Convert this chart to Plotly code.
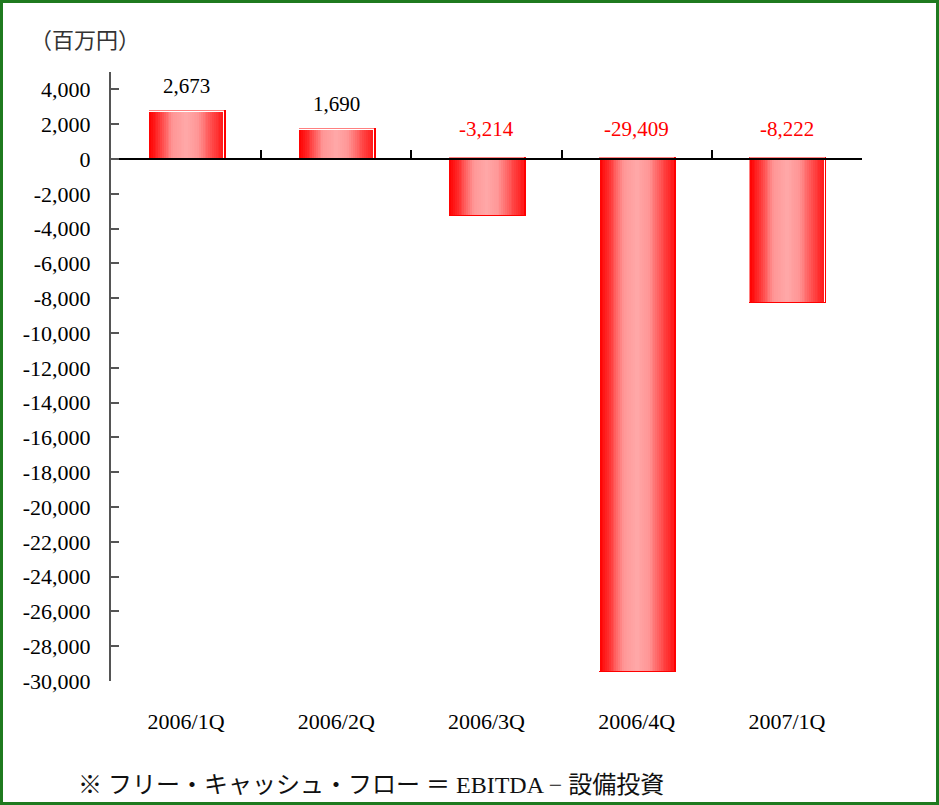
import plotly.graph_objects as go

# ---------------- data ----------------
categories = ["2006/1Q", "2006/2Q", "2006/3Q", "2006/4Q", "2007/1Q"]
fcf_values = [2673, 1690, -3214, -29409, -8222]
value_labels = ["2,673", "1,690", "-3,214", "-29,409", "-8,222"]
y_tick_vals = [4000, 2000, 0, -2000, -4000, -6000, -8000, -10000, -12000, -14000,
               -16000, -18000, -20000, -22000, -24000, -26000, -28000, -30000]
y_tick_text = ["4,000", "2,000", "0", "-2,000", "-4,000", "-6,000", "-8,000", "-10,000",
               "-12,000", "-14,000", "-16,000", "-18,000", "-20,000", "-22,000",
               "-24,000", "-26,000", "-28,000", "-30,000"]
y_range = [-30000, 5000]
unit_label = "（百万円）"
footnote = "※ フリー・キャッシュ・フロー ＝ EBITDA − 設備投資"

# ---------------- layout constants ----------------
W, H = 939, 805
ML, MR, MT, MB = 111, 77, 72, 124
PW, PH = W - ML - MR, H - MT - MB
PX = len(categories) / PW          # category units per pixel
BAR_W = 0.493
FONT = "Liberation Serif, Noto Sans CJK JP, serif"

stops = [(0.0, (255, 0, 0)), (0.12, (255, 45, 45)), (0.32, (255, 150, 150)),
         (0.5, (255, 168, 168)), (0.66, (255, 150, 150)), (0.86, (255, 70, 70)),
         (1.0, (255, 25, 25))]


def grad(t):
    for (t0, c0), (t1, c1) in zip(stops[:-1], stops[1:]):
        if t <= t1:
            f = (t - t0) / (t1 - t0)
            return "rgb(%d,%d,%d)" % tuple(round(a + (b - a) * f) for a, b in zip(c0, c1))
    return "rgb(%d,%d,%d)" % stops[-1][1]


fig = go.Figure()

# shadow layers
fig.add_trace(go.Bar(x=categories, y=fcf_values, width=BAR_W,
                     offset=-BAR_W / 2 + 1.5 * PX,
                     marker=dict(color="#ff0000", line=dict(color="#ff0000", width=3)),
                     hoverinfo="skip", showlegend=False))
fig.add_trace(go.Bar(x=categories, y=fcf_values, width=BAR_W,
                     offset=-BAR_W / 2 + 0.75 * PX,
                     marker=dict(color="#ffffff", line=dict(color="#ffffff", width=1.5)),
                     hoverinfo="skip", showlegend=False))

# gradient strips
N = 40
sw = BAR_W / N
for i in range(N):
    t = (i + 0.5) / N
    w = sw * 1.6 if i < N - 1 else sw
    fig.add_trace(go.Bar(x=categories, y=fcf_values, width=w,
                         offset=-BAR_W / 2 + i * sw,
                         marker=dict(color=grad(t), line=dict(width=0)),
                         hoverinfo="skip", showlegend=False))

# invisible trace for zero-line axis
fig.add_trace(go.Scatter(x=categories, y=fcf_values, xaxis="x2", mode="markers",
                         marker=dict(opacity=0), hoverinfo="skip", showlegend=False))

annotations = []
for c, v, lab in zip(categories, fcf_values, value_labels):
    annotations.append(dict(x=c, y=max(v, 0), text=lab, showarrow=False,
                            xref="x", yref="y", yanchor="middle",
                            yshift=26 if v >= 0 else 30,
                            font=dict(family=FONT, size=21,
                                      color="#000000" if v >= 0 else "#ff0000")))

annotations.append(dict(x=(28 - ML) / PW, y=(H - MB - 38) / PH, xref="paper", yref="paper",
                        text=unit_label, showarrow=False, xanchor="left", yanchor="middle",
                        font=dict(family="Noto Sans CJK JP", size=22, color="#333333")))
annotations.append(dict(x=(76 - ML) / PW, y=(H - MB - 785) / PH, xref="paper", yref="paper",
                        text=footnote, showarrow=False, xanchor="left", yanchor="middle",
                        font=dict(family=FONT, size=24, color="#111111")))

shapes = [dict(type="rect", xref="paper", yref="paper",
               x0=(1.5 - ML) / PW, x1=(W - 1.5 - ML) / PW,
               y0=(H - MB - (H - 1.5)) / PH, y1=(H - MB - 1.5) / PH,
               line=dict(color="#1f7a1f", width=3), fillcolor="rgba(0,0,0,0)", layer="above")]

fig.update_layout(
    width=W, height=H, margin=dict(l=ML, r=MR, t=MT, b=MB),
    paper_bgcolor="white", plot_bgcolor="white",
    barmode="overlay", bargap=0, showlegend=False,
    font=dict(family=FONT, size=22, color="#000000"),
    annotations=annotations, shapes=shapes,
    xaxis=dict(type="category", range=[-0.5, len(categories) - 0.5], showline=False,
               ticks="", showgrid=False, zeroline=False,
               tickfont=dict(family=FONT, size=22), ticklabelstandoff=25),
    xaxis2=dict(type="category", overlaying="x", anchor="free",
                position=(0 - y_range[0]) / (y_range[1] - y_range[0]),
                range=[-0.5, len(categories) - 0.5], showline=True, linecolor="#000000",
                linewidth=1.5, ticks="inside", tickson="boundaries", ticklen=8,
                tickcolor="#000000", tickwidth=1.5, showticklabels=False, showgrid=False,
                zeroline=False),
    yaxis=dict(range=y_range, tickmode="array", tickvals=y_tick_vals, ticktext=y_tick_text,
               showline=True, linecolor="#555555", linewidth=2, ticks="inside", ticklen=8,
               tickcolor="#555555", tickwidth=1.5, showgrid=False, zeroline=False,
               tickfont=dict(family=FONT, size=22), ticklabelstandoff=14),
)

fig.write_html("out.html")
